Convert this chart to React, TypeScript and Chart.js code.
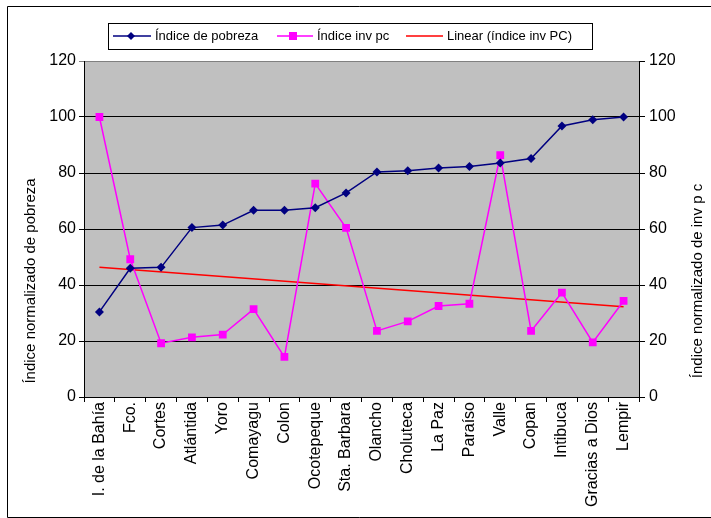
import React, { useEffect, useRef } from "react";
import { Chart, registerables } from "chart.js";

Chart.register(...registerables);

const categories = [
  "I. de la Bahía", "Fco.", "Cortes", "Atlántida", "Yoro", "Comayagu", "Colon",
  "Ocotepeque", "Sta. Barbara", "Olancho", "Choluteca", "La Paz", "Paraíso",
  "Valle", "Copan", "Intibuca", "Gracias a Dios", "Lempir",
];
const pobreza = [30.4, 46, 46.3, 60.5, 61.4, 66.7, 66.7, 67.6, 72.9, 80.4, 80.8, 81.8, 82.3, 83.6, 85.2, 96.8, 99, 100];
const invPc = [100, 49.2, 19.2, 21.3, 22.3, 31.4, 14.3, 76.2, 60.4, 23.6, 27, 32.5, 33.3, 86.4, 23.6, 37.3, 19.5, 34.3];
const trendStart = 46.3;
const trendEnd = 32.2;
const yTicks = [0, 20, 40, 60, 80, 100, 120];

const legendLabels = ["Índice de pobreza", "Índice inv pc", "Linear (índice inv PC)"];
const leftTitle = "Índice normalizado de pobreza";
const rightTitle = "Índice normalizado de inv p c";

const FONT = "'Liberation Sans', Arial, sans-serif";

const decorPlugin = {
  id: "decor",
  beforeDraw(chart: any) {
    const { ctx, chartArea: a } = chart;
    ctx.save();
    ctx.fillStyle = "#C0C0C0";
    ctx.fillRect(a.left, a.top, a.right - a.left, a.bottom - a.top);
    ctx.restore();
  },
  afterDraw(chart: any) {
    const { ctx } = chart;
    ctx.save();
    // outer border
    ctx.strokeStyle = "#000";
    ctx.lineWidth = 1;
    ctx.beginPath();
    ctx.moveTo(711, 6.5);
    ctx.lineTo(7.5, 6.5);
    ctx.lineTo(7.5, 517.5);
    ctx.lineTo(711, 517.5);
    ctx.stroke();

    // legend box
    ctx.strokeStyle = "#000";
    ctx.strokeRect(108.5, 23.5, 484, 26);
    const cy = 36;
    ctx.font = `13px ${FONT}`;
    ctx.fillStyle = "#000";
    ctx.textBaseline = "middle";
    ctx.textAlign = "left";
    // item 1
    ctx.strokeStyle = "#000080";
    ctx.lineWidth = 1.5;
    ctx.beginPath();
    ctx.moveTo(113, cy);
    ctx.lineTo(151, cy);
    ctx.stroke();
    ctx.fillStyle = "#000080";
    ctx.beginPath();
    ctx.moveTo(131, cy - 4);
    ctx.lineTo(135, cy);
    ctx.lineTo(131, cy + 4);
    ctx.lineTo(127, cy);
    ctx.closePath();
    ctx.fill();
    ctx.fillStyle = "#000";
    ctx.fillText(legendLabels[0], 155, cy);
    // item 2
    ctx.strokeStyle = "#FF00FF";
    ctx.beginPath();
    ctx.moveTo(277, cy);
    ctx.lineTo(313, cy);
    ctx.stroke();
    ctx.fillStyle = "#FF00FF";
    ctx.fillRect(289, cy - 4, 8, 8);
    ctx.fillStyle = "#000";
    ctx.fillText(legendLabels[1], 317, cy);
    // item 3
    ctx.strokeStyle = "#FF0000";
    ctx.beginPath();
    ctx.moveTo(406, cy);
    ctx.lineTo(443, cy);
    ctx.stroke();
    ctx.fillStyle = "#000";
    ctx.fillText(legendLabels[2], 447, cy);

    // axis titles
    ctx.font = `15px ${FONT}`;
    ctx.textAlign = "center";
    ctx.textBaseline = "middle";
    ctx.save();
    ctx.translate(31, 281);
    ctx.rotate(-Math.PI / 2);
    ctx.fillText(leftTitle, 0, 0);
    ctx.restore();
    ctx.save();
    ctx.translate(698, 281);
    ctx.rotate(-Math.PI / 2);
    ctx.fillText(rightTitle, 0, 0);
    ctx.restore();
    ctx.restore();
  },
};

export default function App() {
  const ref = useRef<HTMLCanvasElement | null>(null);
  useEffect(() => {
    if (!ref.current) return;
    Chart.defaults.font.family = FONT;
    const n = categories.length;
    const trend = categories.map((_, i) => (i === 0 ? trendStart : i === n - 1 ? trendEnd : null));
    const chart = new Chart(ref.current, {
      type: "line",
      data: {
        labels: categories,
        datasets: [
          {
            label: legendLabels[0],
            data: pobreza,
            yAxisID: "y",
            borderColor: "#000080",
            backgroundColor: "#000080",
            borderWidth: 1.5,
            pointStyle: "rectRot",
            pointRadius: 4.5,
            pointBorderWidth: 0,
            tension: 0,
          },
          {
            label: legendLabels[1],
            data: invPc,
            yAxisID: "y1",
            borderColor: "#FF00FF",
            backgroundColor: "#FF00FF",
            borderWidth: 1.5,
            pointStyle: "rect",
            pointRadius: 5.5,
            pointBorderWidth: 0,
            tension: 0,
          },
          {
            label: legendLabels[2],
            data: trend as any,
            yAxisID: "y1",
            borderColor: "#FF0000",
            borderWidth: 1.5,
            pointRadius: 0,
            spanGaps: true,
            tension: 0,
          },
        ],
      },
      options: {
        animation: false,
        responsive: false,
        layout: { padding: { top: 61, left: 0, right: 0, bottom: 0 } },
        plugins: { legend: { display: false }, tooltip: { enabled: false } },
        scales: {
          x: {
            type: "category",
            offset: true,
            grid: { display: true, drawOnChartArea: false, drawTicks: true, tickLength: 5, color: "#000", offset: true },
            border: { display: true, color: "#000", width: 1 },
            ticks: {
              autoSkip: false,
              maxRotation: 90,
              minRotation: 90,
              padding: 0,
              color: "#000",
              font: { size: 16, family: FONT },
            },
            afterFit(s: any) { s.height = 121; },
          },
          y: {
            position: "left",
            min: 0,
            max: 120,
            afterBuildTicks(s: any) { s.ticks = yTicks.map((v) => ({ value: v })); },
            grid: {
              color: (c: any) => (c.tick && c.tick.value === 120 ? "#808080" : "#000"),
              tickLength: 5,
              drawTicks: true,
            },
            border: { display: true, color: "#000", width: 1 },
            ticks: { color: "#000", padding: 3, font: { size: 16, family: FONT } },
            afterFit(s: any) { s.width = 84; },
          },
          y1: {
            position: "right",
            min: 0,
            max: 120,
            afterBuildTicks(s: any) { s.ticks = yTicks.map((v) => ({ value: v })); },
            grid: { drawOnChartArea: false, color: "#000", tickLength: 6, drawTicks: true },
            border: { display: true, color: "#000", width: 1 },
            ticks: { color: "#000", padding: 4, font: { size: 16, family: FONT } },
            afterFit(s: any) { s.width = 72; },
          },
        },
      },
      plugins: [decorPlugin],
    });
    return () => chart.destroy();
  }, []);
  return (
    <div style={{ position: "absolute", left: 0, top: 0, width: 711, height: 518, background: "#fff" }}>
      <canvas ref={ref} width={711} height={518} style={{ display: "block" }} />
    </div>
  );
}
